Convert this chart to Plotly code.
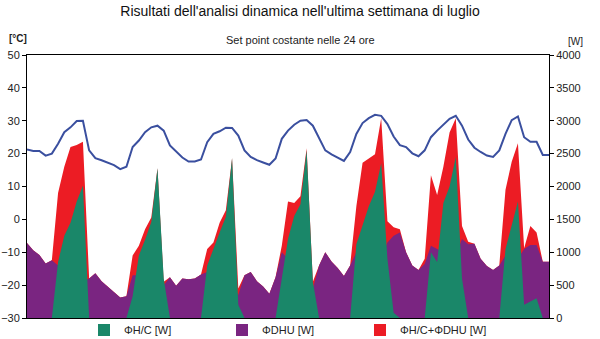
import plotly.graph_objects as go

hours = list(range(0, 169, 2))

temp_c = [21.3, 20.8, 20.8, 19.4, 20.0, 23.0, 26.5, 28.0, 29.9, 30.0,
          21.0, 18.6, 18.0, 17.2, 16.5, 15.3, 16.0, 22.0, 24.0, 26.5,
          28.0, 28.5, 27.0, 22.5, 20.6, 18.8, 17.6, 17.6, 18.2, 23.5,
          26.0, 26.8, 27.9, 27.8, 25.5, 21.0, 19.0, 18.0, 17.3, 16.6,
          18.5, 24.5, 27.0, 28.8, 30.0, 30.2, 28.5, 24.5, 21.0, 19.8,
          18.9, 17.8, 20.5, 26.0, 29.3, 30.8, 31.8, 31.5, 29.0, 25.2,
          22.6, 22.0, 20.1, 19.2, 21.0, 25.0, 27.0, 28.7, 30.6, 31.5,
          28.5, 24.3, 21.8, 20.5, 19.4, 19.0, 21.0, 26.0, 30.2, 31.3,
          25.0, 23.6, 23.6, 19.6, 19.6]

phi_hc = [0, 0, 0, 0, 0, 850, 1250, 1450, 1770, 2010,
          0, 0, 0, 0, 0, 0, 0, 330, 950, 1190,
          1460, 2277, 600, 0, 0, 0, 0, 0, 0, 800,
          1060, 1300, 1540, 2429, 200, 0, 0, 0, 0, 0,
          0, 600, 1200, 1550, 1730, 2550, 550, 0, 0, 0,
          0, 0, 0, 1120, 1420, 1700, 1920, 2353, 900, 80,
          0, 0, 0, 0, 0, 1000, 850, 1750, 2000, 2450,
          600, 0, 0, 0, 0, 0, 0, 1050, 1400, 1770,
          200, 250, 300, 0, 0]

phi_dhu = [1140, 1030, 960, 830, 880, 800, 700, 600, 550, 550,
           600, 680, 560, 480, 390, 310, 330, 650, 650, 600,
           600, 550, 500, 620, 490, 600, 590, 600, 660, 700,
           650, 600, 550, 500, 350, 650, 700, 560, 480, 370,
           620, 1000, 900, 800, 700, 600, 450, 800, 1000, 860,
           760, 640, 800, 1000, 950, 900, 900, 900, 1150, 1250,
           1300, 1000, 800, 730, 820, 1100, 1050, 1000, 950, 950,
           1200, 1120, 1130, 900, 790, 730, 800, 950, 900, 900,
           1050, 1110, 1110, 856, 856]

phi_tot = [1140, 1030, 960, 830, 880, 1900, 2300, 2600, 2630, 2680,
           600, 680, 560, 480, 390, 310, 330, 950, 1100, 1350,
           1530, 2277, 550, 620, 490, 600, 590, 600, 660, 1050,
           1150, 1450, 1640, 2429, 450, 650, 700, 560, 480, 370,
           620, 1100, 1770, 1750, 1850, 2581, 550, 800, 1000, 860,
           760, 640, 800, 1700, 2360, 2420, 2490, 3037, 1470, 1380,
           1350, 1000, 800, 730, 900, 2170, 1870, 2300, 2820, 3037,
           1400, 1160, 1130, 900, 790, 730, 800, 1950, 2378, 2657,
           1060, 1400, 1300, 856, 856]

GREEN = "#1a8769"
PURPLE = "#7a2581"
RED = "#ec1c24"
BLUE = "#3a4f9f"

L, R, T, B = 27, 51, 55, 21
W_, H_ = 600, 339

fig = go.Figure()

fig.add_trace(go.Scatter(x=hours, y=phi_tot, mode="lines", fill="tozeroy",
                         line=dict(width=0, color=RED), fillcolor=RED,
                         showlegend=False, yaxis="y"))
fig.add_trace(go.Scatter(x=hours, y=phi_dhu, mode="lines", fill="tozeroy",
                         line=dict(width=0, color=PURPLE), fillcolor=PURPLE,
                         showlegend=False, yaxis="y"))
fig.add_trace(go.Scatter(x=hours, y=phi_hc, mode="lines", fill="tozeroy",
                         line=dict(width=0, color=GREEN), fillcolor=GREEN,
                         showlegend=False, yaxis="y"))
fig.add_trace(go.Scatter(x=hours, y=temp_c, mode="lines",
                         line=dict(width=2, color=BLUE),
                         showlegend=False, yaxis="y2"))

for name, col in [("ΦH/C [W]", GREEN), ("ΦDHU [W]", PURPLE), ("ΦH/C+ΦDHU [W]", RED)]:
    fig.add_trace(go.Scatter(x=[None], y=[None], mode="markers", name=name,
                             marker=dict(symbol="square", size=7, color=col)))

pw, ph = W_ - L - R, H_ - T - B
def px2paper(px, py):
    return (px - L) / pw, (H_ - B - py) / ph

lx, ly = px2paper(84, 330)

fig.update_layout(
    width=W_, height=H_,
    margin=dict(l=L, r=R, t=T, b=B, autoexpand=False),
    paper_bgcolor="white", plot_bgcolor="white",
    font=dict(family="Liberation Sans, Arial, sans-serif", size=11, color="#222"),
    title=dict(text="Risultati dell'analisi dinamica nell'ultima settimana di luglio",
               x=0.5, xanchor="center", y=1 - 11 / H_, yanchor="middle",
               font=dict(size=14, color="#111")),
    xaxis=dict(range=[0, 168], showticklabels=False, ticks="", showgrid=False,
               zeroline=False, showline=True, linecolor="#000", linewidth=1, mirror=True),
    yaxis=dict(range=[0, 4000], side="right", tickvals=list(range(0, 4001, 500)),
               ticks="outside", ticklen=4, tickcolor="#000", showgrid=False, zeroline=False,
               showline=True, linecolor="#000", linewidth=1, tickfont=dict(size=11)),
    yaxis2=dict(range=[-30, 50], side="left", overlaying="y", tickvals=list(range(-30, 51, 10)),
                ticks="outside", ticklen=4, tickcolor="#000", showgrid=False, zeroline=False,
                showline=True, linecolor="#000", linewidth=1, tickfont=dict(size=11)),
    legend=dict(orientation="h", x=lx, xanchor="left", y=ly, yanchor="middle",
                entrywidth=93, entrywidthmode="pixels", font=dict(size=11),
                itemsizing="constant", bgcolor="rgba(0,0,0,0)", tracegroupgap=0,
                itemwidth=30),
)

for text, (px, py), size in [("Set point costante nelle 24 ore", (300, 40), 11),
                             ("<b>[°C]</b>", (18, 38), 10),
                             ("[W]", (575, 42), 10)]:
    xp, yp = px2paper(px, py)
    fig.add_annotation(text=text, x=xp, y=yp, xref="paper", yref="paper",
                       xanchor="center", yanchor="middle", showarrow=False,
                       font=dict(size=size))

fig.write_html("out.html")
